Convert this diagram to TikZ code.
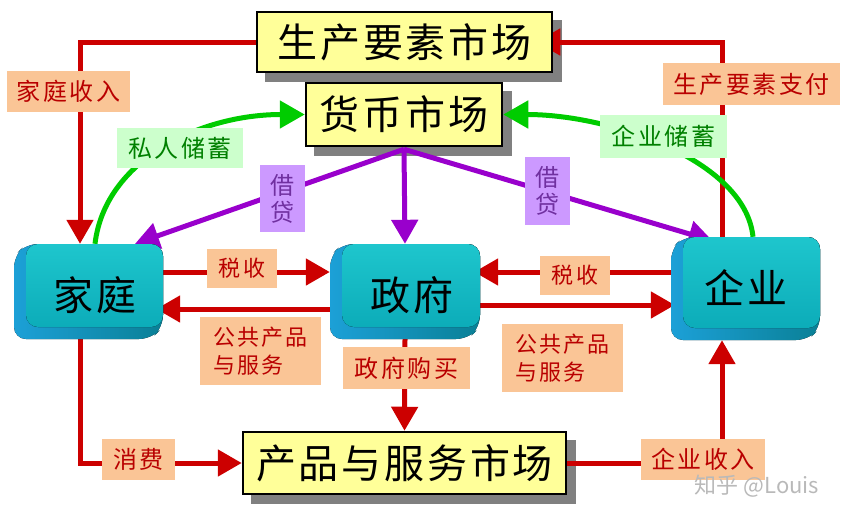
\documentclass[tikz,border=0pt]{standalone}
\usepackage{fontspec}
\usetikzlibrary{arrows.meta,calc}
\newfontfamily\cjk{Noto Sans CJK SC}
\newfontfamily\cjkbig[LetterSpace=7]{Noto Sans CJK SC}
\newfontfamily\cjklab[LetterSpace=10]{Noto Sans CJK SC}
\definecolor{myyellow}{RGB}{255,255,153}
\definecolor{shadowgray}{RGB}{128,128,128}
\definecolor{laborange}{RGB}{250,197,150}
\definecolor{labred}{RGB}{185,0,0}
\definecolor{arrred}{RGB}{204,0,0}
\definecolor{arrpurple}{RGB}{153,0,204}
\definecolor{arrgreen}{RGB}{0,204,0}
\definecolor{glabfill}{RGB}{204,255,204}
\definecolor{glabtext}{RGB}{0,128,0}
\definecolor{plabfill}{RGB}{204,153,255}
\definecolor{plabtext}{RGB}{112,48,160}
\definecolor{tfront1}{RGB}{30,198,205}
\definecolor{tfront2}{RGB}{12,172,185}
\definecolor{tside1}{RGB}{28,160,215}
\definecolor{tside2}{RGB}{10,128,150}
\pgfdeclarelayer{shadowlayer}
\pgfdeclarelayer{arrowlayer}
\pgfsetlayers{shadowlayer,arrowlayer,main}
\newcommand{\tealbox}[5]{%
  \fill[left color=tside1, right color=tside2, rounded corners=12pt]
    (#1+#5,#2) -- (#3,#2) -- (#3,#4-#5) -- (#3-#5,#4) -- (#1,#4) -- (#1,#2+#5) -- cycle;
  \fill[top color=tfront1, bottom color=tfront2, rounded corners=12pt]
    (#1+#5,#2) rectangle (#3,#4-#5);
}
\tikzset{
  market/.style={draw=black, line width=2.5pt, fill=myyellow, inner sep=0pt,
    font={\cjkbig\fontsize{40}{44}\selectfont}},
  bigtxt/.style={inner sep=0pt, font={\cjkbig\fontsize{40}{44}\selectfont}},
  boxarea/.style={inner sep=0pt, draw=none},
  lab/.style={fill=laborange, text=labred, inner sep=0pt,
    font={\cjklab\fontsize{24}{28}\selectfont}},
  slab/.style={fill=laborange, text=labred, inner sep=0pt, align=left,
    font={\cjklab\fontsize{22}{28}\selectfont}},
  glab/.style={fill=glabfill, text=glabtext, inner sep=0pt,
    font={\cjklab\fontsize{24}{28}\selectfont}},
  plab/.style={fill=plabfill, text=plabtext, inner sep=0pt, align=center,
    font={\cjk\fontsize{24}{27}\selectfont}},
  redarr/.style={draw=arrred, line width=5pt, -{Triangle[length=24pt,width=26pt]}},
  purparr/.style={draw=arrpurple, line width=5pt, -{Triangle[length=24pt,width=26pt]}},
  greenarr/.style={draw=arrgreen, line width=5pt, -{Triangle[length=25pt,width=27pt]}},
  wm/.style={inner sep=0pt, text=gray!55, font={\cjk\fontsize{22}{26}\selectfont}}
}
\begin{document}
\begin{tikzpicture}[x=1pt,y=-1pt]
\useasboundingbox (0,0) rectangle (853,520);

% markets
\node[market, minimum width=295pt, minimum height=60pt] (factor) at (404.5,42) {生产要素市场};
\node[market, minimum width=196pt, minimum height=63pt] (money) at (404,114.5) {货币市场};
\node[market, minimum width=323pt, minimum height=62pt] (goods) at (404.5,463) {产品与服务市场};

\begin{pgfonlayer}{shadowlayer}
\foreach \n in {factor,money,goods}
  \fill[shadowgray] ($(\n.south west)+(9,9)$) rectangle ($(\n.north east)+(9,9)$);
\end{pgfonlayer}

% agents
\tealbox{14}{244}{163}{339}{12}
\tealbox{330}{244}{480}{339}{12}
\tealbox{671}{237}{820}{340}{12}
\node[boxarea, minimum width=149pt, minimum height=95pt] (home) at (88.5,291.5) {};
\node[boxarea, minimum width=150pt, minimum height=95pt] (gov) at (405,291.5) {};
\node[boxarea, minimum width=149pt, minimum height=103pt] (firm) at (745.5,288.5) {};
\node[bigtxt] (homet) at (95,295) {家庭};
\node[bigtxt] (govt) at (412,295) {政府};
\node[bigtxt] (firmt) at (746,288) {企业};

% connectors
\begin{pgfonlayer}{arrowlayer}
\draw[redarr] (factor.west) -| ([xshift=-8.5pt]home.north);
\draw[redarr] ([xshift=-23.5pt]firm.north) |- ([xshift=-17pt]factor.east);
\draw[redarr] ([xshift=-8.5pt]home.south) |- (goods.west);
\draw[redarr] (goods.east) -| ([xshift=-23.5pt]firm.south);
\draw[redarr] (gov.south) -- (goods.north);
\draw[redarr] ([yshift=19.5pt]home.east) -- ([yshift=19.5pt]gov.west);
\draw[redarr] ([yshift=-17.5pt]gov.west) -- ([yshift=-17.5pt,xshift=-7pt]home.east);
\draw[redarr] ([yshift=16.5pt]firm.west) -- ([yshift=19.5pt,xshift=-6pt]gov.east);
\draw[redarr] ([yshift=-13.5pt]gov.east) -- ([yshift=-16.5pt,xshift=4pt]firm.west);
\coordinate (mm) at ([yshift=-2pt]money.south);
\draw[purparr] (mm) -- ([xshift=46.5pt]home.north);
\draw[purparr] (mm) -- (gov.north);
\draw[purparr] (mm) -- ([xshift=-33pt,yshift=-4pt]firm.north);
\draw[greenarr] ([xshift=6.5pt]home.north) .. controls (105,160) and (200,114.5) .. (money.west);
\draw[greenarr] ([xshift=7.5pt]firm.north) .. controls (745,160) and (610,114.5) .. (money.east);
\end{pgfonlayer}

% labels
\node[lab, minimum width=123pt, minimum height=41pt] (l1) at (68.5,91.5) {家庭收入};
\node[lab, minimum width=177pt, minimum height=42pt] (l2) at (751.5,84) {生产要素支付};
\node[glab, minimum width=126pt, minimum height=40pt] (l3) at (180,148) {私人储蓄};
\node[glab, minimum width=127pt, minimum height=43pt] (l4) at (663.5,136.5) {企业储蓄};
\node[plab, minimum width=45pt, minimum height=67pt] (l5) at (282.5,198.5) {借\\贷};
\node[plab, minimum width=45pt, minimum height=68pt] (l6) at (547.5,191) {借\\贷};
\node[slab, minimum width=70pt, minimum height=39pt] (l7) at (242,268.5) {税收};
\node[slab, minimum width=121pt, minimum height=68pt] (l8) at (260.5,351) {公共产品\\与服务};
\node[slab, minimum width=70pt, minimum height=39pt] (l9) at (575,275.5) {税收};
\node[slab, minimum width=121pt, minimum height=68pt] (l10) at (562.5,358) {公共产品\\与服务};
\node[lab, minimum width=127pt, minimum height=42pt] (l11) at (406.5,368) {政府购买};
\node[lab, minimum width=73pt, minimum height=41pt] (l12) at (138.5,459.5) {消费};
\node[lab, minimum width=124pt, minimum height=41pt] (l13) at (703,459.5) {企业收入};

\node[wm] (wmark) at (757,486) {知乎 @Louis};
\end{tikzpicture}
\end{document}
